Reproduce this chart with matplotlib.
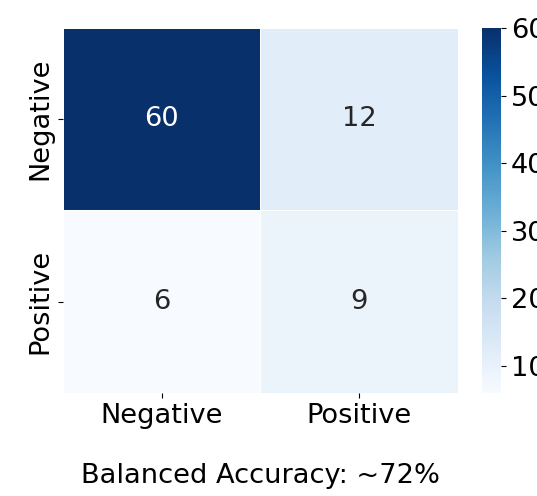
import matplotlib
matplotlib.use("Agg")
import matplotlib.pyplot as plt
import numpy as np
import seaborn as sns

# confusion matrix counts: rows = actual, cols = predicted
labels = ["Negative", "Positive"]
counts = np.array([[60, 12],
                   [6, 9]])
accuracy_text = "Balanced Accuracy: ~72%"

fs = 19.6

fig = plt.figure(figsize=(5.37, 4.96), dpi=100)
ax = fig.add_axes([0.1173, 0.2077, 0.7356, 0.7359])
cax = fig.add_axes([0.8976, 0.2077, 0.0354, 0.7359])

sns.heatmap(counts, annot=True, fmt="d", cmap="Blues",
            linewidths=0.5, linecolor="white",
            xticklabels=labels, yticklabels=labels,
            annot_kws={"size": fs}, ax=ax, cbar_ax=cax)

ax.tick_params(axis="both", labelsize=fs)
plt.setp(ax.get_yticklabels(), rotation=90, va="center")
plt.setp(ax.get_xticklabels(), rotation=0)
ax.set_xlabel(accuracy_text, fontsize=fs, labelpad=25)

cax.tick_params(labelsize=fs)

fig.savefig("out.png", dpi=100)
